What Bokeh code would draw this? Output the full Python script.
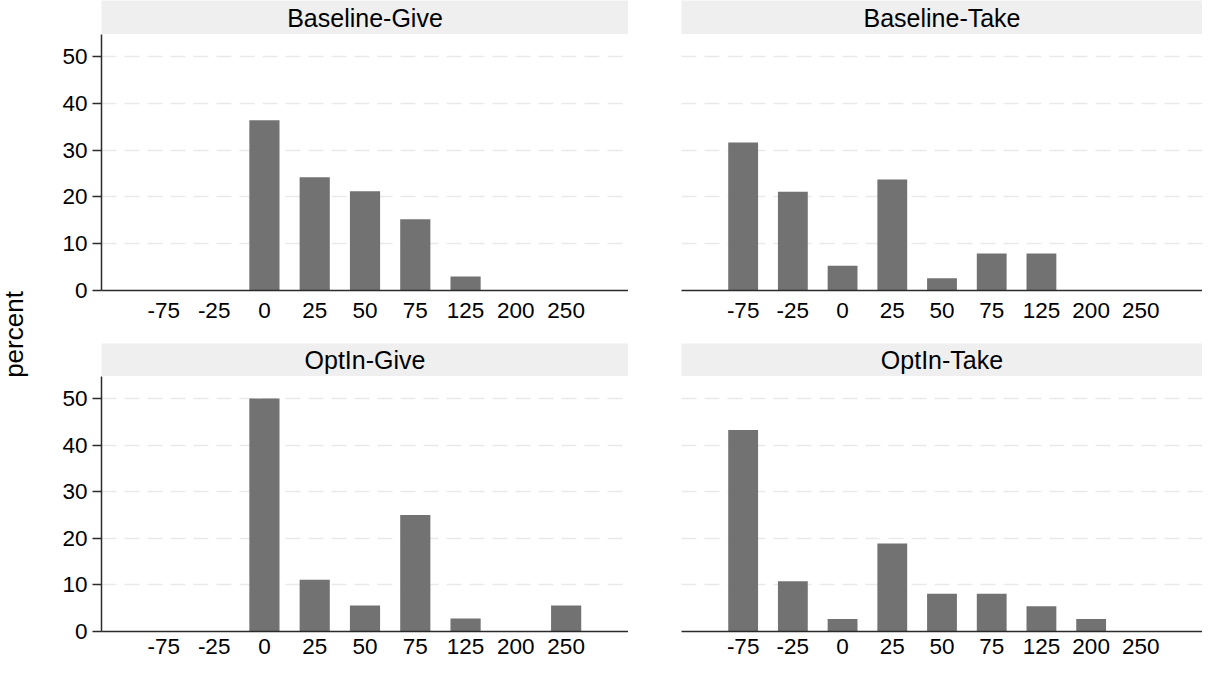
from math import pi
from bokeh.plotting import figure
from bokeh.models import FactorRange, Range1d, FixedTicker, Label
from bokeh.layouts import row, column
from bokeh.embed import file_html
from bokeh.resources import INLINE
from bokeh.core.properties import value

# ---- data (percent of subjects per choice) ----
categories = ["-75", "-25", "0", "25", "50", "75", "125", "200", "250"]
baseline_give = [0, 0, 36.4, 24.2, 21.2, 15.2, 3.0, 0, 0]
baseline_take = [31.6, 21.1, 5.3, 23.7, 2.6, 7.9, 7.9, 0, 0]
optin_give = [0, 0, 50.0, 11.1, 5.6, 25.0, 2.8, 0, 5.6]
optin_take = [43.2, 10.8, 2.7, 18.9, 8.1, 8.1, 5.4, 2.7, 0]
panel_titles = ["Baseline-Give", "Baseline-Take", "OptIn-Give", "OptIn-Take"]
y_ticks = [0, 10, 20, 30, 40, 50]
grid_ticks = [10, 20, 30, 40, 50]
y_label = "percent"

FONT = "Liberation Sans"
BAR = "#727272"
STRIP = "#efefef"
AXIS = "#2b2b2b"
GRID = "#e9e9e9"
TICK_FS = "22.5px"


def strip(title, left, frame_w, h):
    s = figure(width=left + frame_w, height=h, x_range=(0, 1), y_range=(0, 1),
               x_axis_type=None, y_axis_type=None, toolbar_location=None,
               output_backend="svg", min_border_left=left, min_border_right=0,
               min_border_top=0, min_border_bottom=0)
    s.grid.visible = False
    s.outline_line_color = None
    s.background_fill_color = STRIP
    s.border_fill_color = "white"
    s.text(x=[0.5], y=[0.5], text=[title], text_align="center",
           text_baseline="middle", text_font=value(FONT),
           text_font_size="25px", text_color="black")
    return s


def panel(vals, left, frame_w, frame_h, bottom, standoff, show_y):
    p = figure(width=left + frame_w, height=frame_h + bottom,
               x_range=FactorRange(factors=categories, range_padding=0.74,
                                   range_padding_units="absolute"),
               y_range=Range1d(0, 54.7), toolbar_location=None,
               output_backend="svg", min_border_left=left, min_border_right=0,
               min_border_top=0, min_border_bottom=bottom)
    p.vbar(x=categories, top=vals, width=0.6, fill_color=BAR, line_color=None)
    p.outline_line_color = None
    p.background_fill_color = "white"
    p.border_fill_color = "white"

    p.xgrid.visible = False
    p.ygrid.ticker = FixedTicker(ticks=grid_ticks)
    p.ygrid.grid_line_color = GRID
    p.ygrid.grid_line_width = 1.5
    p.ygrid.grid_line_dash = "15 8"

    xa = p.xaxis[0]
    xa.axis_line_color = AXIS
    xa.axis_line_width = 1.5
    xa.major_tick_line_color = None
    xa.major_tick_out = 0
    xa.major_tick_in = 0
    xa.minor_tick_line_color = None
    xa.major_label_standoff = standoff
    xa.major_label_text_font = FONT
    xa.major_label_text_font_size = TICK_FS
    xa.major_label_text_color = "black"

    ya = p.yaxis[0]
    ya.ticker = FixedTicker(ticks=y_ticks)
    if show_y:
        ya.axis_line_color = AXIS
        ya.axis_line_width = 1.5
        ya.major_tick_line_color = AXIS
        ya.major_tick_line_width = 1.5
        ya.major_tick_out = 9
        ya.major_tick_in = 0
        ya.minor_tick_line_color = None
        ya.major_label_standoff = 5
        ya.major_label_text_font = FONT
        ya.major_label_text_font_size = TICK_FS
        ya.major_label_text_color = "black"
    else:
        ya.visible = False
    return p


LEFT_L, FRAME_L = 51, 527
LEFT_R, FRAME_R = 53, 521

s1 = strip(panel_titles[0], LEFT_L, FRAME_L, 34)
p1 = panel(baseline_give, LEFT_L, FRAME_L, 256, 53, 12, True)
s3 = strip(panel_titles[2], LEFT_L, FRAME_L, 33)
p3 = panel(optin_give, LEFT_L, FRAME_L, 255, 34, 7, True)

s2 = strip(panel_titles[1], LEFT_R, FRAME_R, 34)
p2 = panel(baseline_take, LEFT_R, FRAME_R, 256, 53, 12, False)
s4 = strip(panel_titles[3], LEFT_R, FRAME_R, 33)
p4 = panel(optin_take, LEFT_R, FRAME_R, 255, 34, 7, False)

lab = figure(width=50, height=665, x_range=(0, 1), y_range=(0, 1),
             x_axis_type=None, y_axis_type=None, toolbar_location=None,
             output_backend="svg", min_border_left=0, min_border_right=0,
             min_border_top=0, min_border_bottom=0)
lab.grid.visible = False
lab.outline_line_color = None
lab.add_layout(Label(x=13, y=331, x_units="screen", y_units="screen",
                     text=y_label, angle=pi / 2, text_align="center",
                     text_baseline="middle", text_font=FONT,
                     text_font_size="26px", text_color="black"))

layout = row(lab, column(s1, p1, s3, p3), column(s2, p2, s4, p4))

open("out.html", "w").write(file_html(layout, INLINE))
